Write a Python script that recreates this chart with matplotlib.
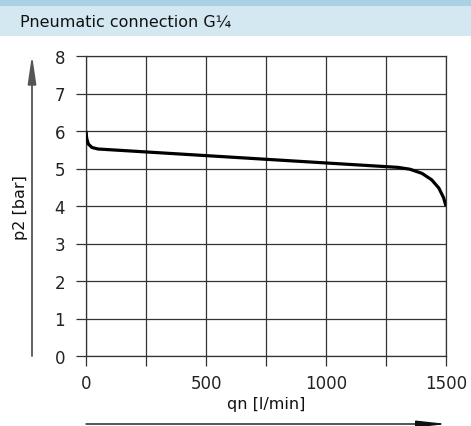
import matplotlib
matplotlib.use('Agg')
import matplotlib.pyplot as plt
from matplotlib.ticker import MultipleLocator, FuncFormatter
from matplotlib.patches import Rectangle

plt.rcParams['font.family'] = ['DejaVu Sans']

# Kennlinie p2 über qn
qn = [0, 3, 10, 25, 50, 1300, 1350, 1400, 1440, 1470, 1490, 1500]
p2 = [6.0, 5.8, 5.65, 5.56, 5.52, 5.03, 4.98, 4.87, 4.70, 4.48, 4.22, 4.0]
x_labels = [0, 500, 1000, 1500]
title = 'Pneumatic connection G\u00bc'

W, H = 471, 427
fig = plt.figure(figsize=(W / 100, H / 100), dpi=100)

# Kopfzeile
fig.add_artist(Rectangle((0, 1 - 7 / H), 1, 7 / H, transform=fig.transFigure,
                         color='#a9d1e4', lw=0))
fig.add_artist(Rectangle((0, 1 - 37 / H), 1, 30 / H, transform=fig.transFigure,
                         color='#d4e8f2', lw=0))
fig.text(20 / W, 1 - 22 / H, title, fontsize=11.5, va='center', ha='left', color='#111')

ax = fig.add_axes([86 / W, 1 - 357 / H, 360 / W, 300 / H])
ax.plot(qn, p2, color='black', lw=2.3, solid_capstyle='butt', zorder=3)

ax.set_xlim(0, 1500)
ax.set_ylim(0, 8)
ax.xaxis.set_major_locator(MultipleLocator(250))
ax.yaxis.set_major_locator(MultipleLocator(1))
ax.xaxis.set_major_formatter(FuncFormatter(lambda v, p: '%d' % v if int(round(v)) in x_labels else ''))
ax.grid(True, color='#333333', lw=0.9)
for s in ax.spines.values():
    s.set_color('#333333')
    s.set_linewidth(0.9)
ax.tick_params(length=7, width=0.9, color='#333333', labelsize=12)
ax.tick_params(axis='y', pad=8)
ax.tick_params(axis='x', pad=6)
for t in ax.get_xticklabels() + ax.get_yticklabels():
    t.set_color('#222')

# Achsentitel
fig.text(266 / W, 1 - 405 / H, 'qn [l/min]', fontsize=11.5, ha='center', va='center', color='#111')
fig.text(20 / W, 1 - 208 / H, 'p2 [bar]', fontsize=11.5, ha='center', va='center',
         rotation=90, color='#111')

# Pfeile
ax.annotate('', xy=(32, H - 56), xytext=(32, H - 357), xycoords='figure pixels',
            textcoords='figure pixels',
            arrowprops=dict(arrowstyle='-|>,head_length=1.7,head_width=0.25',
                            mutation_scale=10, color='#555', lw=1.3, shrinkA=0, shrinkB=0))
ax.annotate('', xy=(447, H - 425), xytext=(86, H - 425), xycoords='figure pixels',
            textcoords='figure pixels',
            arrowprops=dict(arrowstyle='-|>,head_length=1.8,head_width=0.2',
                            mutation_scale=10, color='#111', lw=1.0, shrinkA=0, shrinkB=0))

fig.savefig('out.png', dpi=100)
